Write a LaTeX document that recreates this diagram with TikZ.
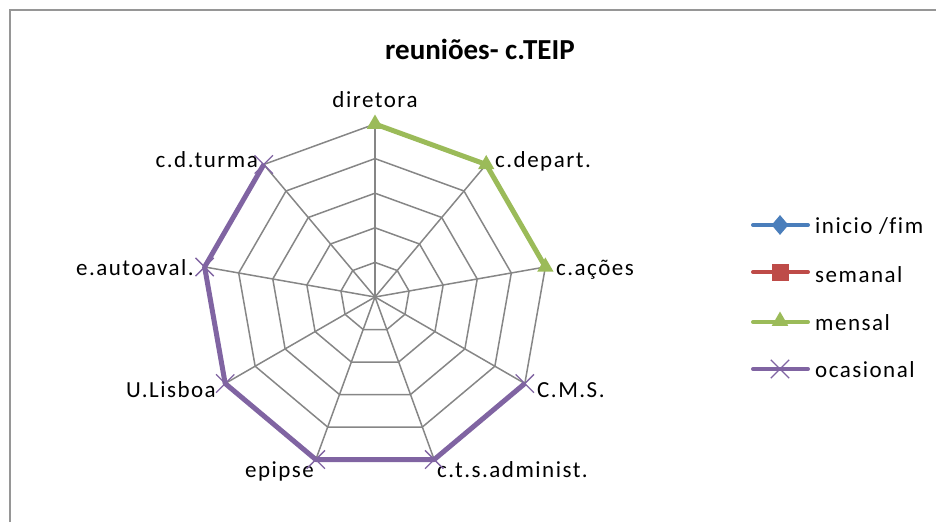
\documentclass[tikz,border=0pt]{standalone}
\usepackage{fontspec}
\setmainfont{Carlito}
\newfontfamily\lblfont[LetterSpace=6.5, Ligatures=CommonOff]{Carlito}
\usetikzlibrary{shapes.geometric,shapes.misc}
\definecolor{gridgray}{RGB}{134,134,134}
\definecolor{framegray}{RGB}{150,150,150}
\definecolor{serblue}{RGB}{74,126,187}
\definecolor{serred}{RGB}{190,75,72}
\definecolor{sergreen}{RGB}{155,187,89}
\definecolor{serpurple}{RGB}{128,100,162}

\begin{document}
\begin{tikzpicture}[x=1pt, y=-1pt,
		gridline/.style={line width=1.5pt, color=gridgray},
		axisline/.style={line width=2.3pt, color=gridgray},
		lbl/.style={font=\lblfont\fontsize{23}{27}\selectfont, inner sep=0pt},
		series/.style={line width=5pt, line join=round},
		legline/.style={line width=4pt, line cap=round},
		trimark/.style={regular polygon, regular polygon sides=3, fill=sergreen, inner sep=0pt, minimum size=19pt},
		xmark/.style={cross out, draw=serpurple, line width=1.3pt, inner sep=0pt, minimum size=17pt}]
			%%%%% START %%%%%
			
			\useasboundingbox (0, 0) rectangle (936, 522);
			\draw[line width=1.6pt, color=framegray] (10, 522) -- (10, 10) -- (936, 10);
			
			\node[font=\bfseries\fontsize{29}{33}\selectfont] (title) at (480, 49) {reuniões- c.TEIP};
			
			% spider grid
			\coordinate (c) at (375, 297);
			\foreach \k in {0,...,8}
				\coordinate (v\k) at ({375+173*cos(90-40*\k)}, {297-173*sin(90-40*\k)});
			\foreach \r in {1,...,5}
				\draw[gridline] (375, {297-34.6*\r}) \foreach \k in {1,...,8}{ -- ({375+34.6*\r*cos(90-40*\k)}, {297-34.6*\r*sin(90-40*\k)}) } -- cycle;
			\foreach \k in {1,...,8}
				\draw[gridline] (c) -- (v\k);
			\draw[axisline] (c) -- (v0);
			
			% labels
			\node[lbl, anchor=base] (diretora) at (375, 107) {diretora};
			\node[lbl, anchor=base west] (cdepart) at (495, 167) {c.depart.};
			\node[lbl, anchor=base west] (cacoes) at (556, 275) {c.ações};
			\node[lbl, anchor=base west] (cms) at (537, 397) {C.M.S.};
			\node[lbl, anchor=base west] (ctsadmin) at (437, 477) {c.t.s.administ.};
			\node[lbl, anchor=base east] (epipse) at (314, 477) {epipse};
			\node[lbl, anchor=base east] (ulisboa) at (216, 397) {U.Lisboa};
			\node[lbl, anchor=base east] (eautoaval) at (194, 275) {e.autoaval.};
			\node[lbl, anchor=base east] (cdturma) at (258, 167) {c.d.turma};
			
			% series
			\draw[series, color=sergreen] (v0) -- (v1) -- (v2);
			\foreach \k in {0,1,2}
				\node[trimark] at (v\k) {};
			\draw[series, color=serpurple] (v3) -- (v4) -- (v5) -- (v6) -- (v7) -- (v8);
			\foreach \k in {3,...,8}
				\node[xmark] at (v\k) {};
			
			% legend
			\draw[legline, color=serblue] (753, 225) -- (808, 225);
			\node[diamond, fill=serblue, inner sep=0pt, minimum width=17pt, minimum height=20pt] at (780, 225) {};
			\node[lbl, anchor=base west] (leginicio) at (815, 233) {inicio /fim};
			
			\draw[legline, color=serred] (753, 272) -- (808, 272);
			\node[rectangle, fill=serred, inner sep=0pt, minimum size=17pt] at (780, 272) {};
			\node[lbl, anchor=base west] (legsemanal) at (815, 282) {semanal};
			
			\draw[legline, color=sergreen] (753, 322) -- (808, 322);
			\node[trimark] at (780, 321) {};
			\node[lbl, anchor=base west] (legmensal) at (815, 330) {mensal};
			
			\draw[legline, color=serpurple] (753, 369) -- (808, 369);
			\node[xmark] at (780, 369) {};
			\node[lbl, anchor=base west] (legocasional) at (815, 377) {ocasional};
			
			%%%%% END %%%%%
		\end{tikzpicture}
\end{document}
